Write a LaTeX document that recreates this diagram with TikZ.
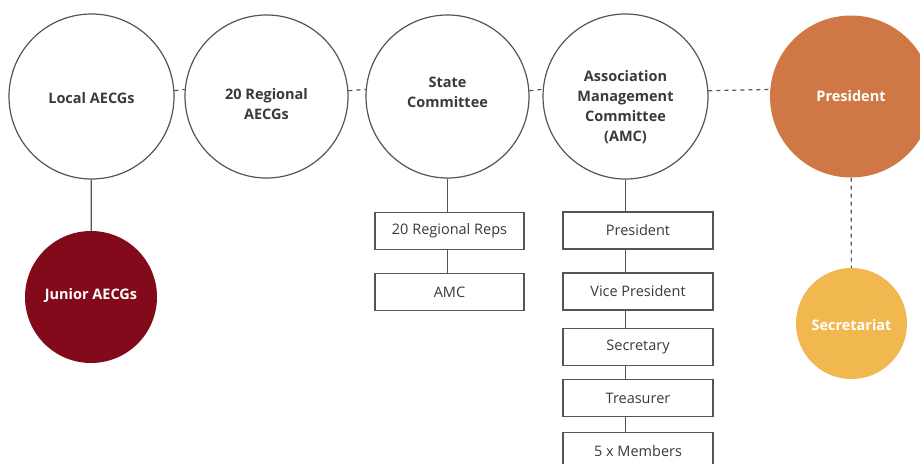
\documentclass[tikz,border=0pt]{standalone}
\usepackage{fontspec}
\setmainfont{Open Sans}
\definecolor{inkgray}{HTML}{3A3A3A}
\definecolor{linegray}{HTML}{555555}
\definecolor{juniorred}{HTML}{820A1A}
\definecolor{presorange}{HTML}{D07845}
\definecolor{secyellow}{HTML}{F2B850}
\tikzset{
  group/.style={draw=linegray,line width=1.2pt,circle,fill=white,inner sep=0pt},
  solid group/.style={circle,inner sep=0pt},
  tag/.style={text=inkgray,font=\fontsize{14.5}{20}\selectfont\bfseries,align=center,inner sep=0pt},
  white tag/.style={tag,text=white},
  role/.style={draw=linegray,line width=1.2pt,rectangle,fill=white,text=inkgray,
    font=\fontsize{14.5}{16}\selectfont,minimum width=149pt,minimum height=37pt,inner sep=0pt},
  link/.style={draw=linegray,line width=1.2pt},
  dashlink/.style={draw=linegray,line width=1.2pt,dash pattern=on 4pt off 4pt}
}
\begin{document}
\begin{tikzpicture}[x=1pt,y=-1pt]
        \clip (0,0) rectangle (920,463);
        \fill[white] (0,0) rectangle (920,463);

        \node[group,minimum size=165pt,label={[tag,yshift=-1.5pt]center:Local AECGs}] (local) at (91.5,96.5) {};
        \node[group,minimum size=163pt,label={[tag,yshift=-8pt]center:20 Regional\\AECGs}] (regional) at (266.5,96.5) {};
        \node[group,minimum size=163pt,label={[tag,yshift=4.5pt]center:State\\Committee}] (state) at (447.5,96.5) {};
        \node[group,minimum size=165pt,label={[tag,yshift=-10.5pt]center:Association\\Management\\Committee\\(AMC)}] (amc) at (625.5,96.5) {};
        \node[solid group,fill=presorange,minimum size=162pt,label={[white tag]center:President}] (pres) at (851,96.5) {};
        \node[solid group,fill=juniorred,minimum size=132pt,label={[white tag,yshift=1pt]center:Junior AECGs}] (junior) at (91,297) {};
        \node[solid group,fill=secyellow,minimum size=111pt,label={[white tag,yshift=-1.5pt]center:Secretariat}] (secr) at (851.5,323.5) {};

        \node[role] (reps) at (449.5,231) {20 Regional Reps};
        \node[role] (amcbox) at (449.5,292) {AMC};

        \node[role,minimum width=150pt] (pbox) at (638,230.5) {President};
        \node[role,minimum width=150pt] (vpbox) at (638,291.5) {Vice President};
        \node[role,minimum width=150pt] (secbox) at (638,347) {Secretary};
        \node[role,minimum width=150pt] (trbox) at (638,398) {Treasurer};
        \node[role,minimum width=150pt] (membox) at (638,451) {5 x Members};

        \draw[dashlink] (local.4.5) -- (regional.175.5);
        \draw[dashlink] (regional.4.5) -- (state.175.5);
        \draw[dashlink] (state.4.5) -- (amc.175.5);
        \draw[dashlink] (amc.4.5) -- (pres.175.5);
        \draw[dashlink] (pres) -- (secr);

        \draw[link] (local) -- (junior);
        \draw[link] (state.south) -- (state.south |- reps.north);
        \draw[link] (reps.south -| state.south) -- (amcbox.north -| state.south);

        \draw[link] (amc.south) -- (amc.south |- pbox.north);
        \foreach \a/\b in {pbox/vpbox,vpbox/secbox,secbox/trbox,trbox/membox}
          \draw[link] (\a.south -| amc.south) -- (\b.north -| amc.south);
    \end{tikzpicture}
\end{document}
